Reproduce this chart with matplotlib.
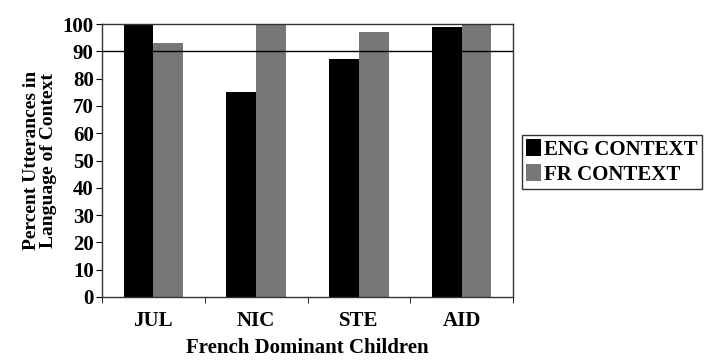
import matplotlib.pyplot as plt
import numpy as np

# data
children = ['JUL', 'NIC', 'STE', 'AID']
eng_context = [100, 75, 87, 99]
fr_context = [93, 100, 97, 100]
labels = ['ENG CONTEXT', 'FR CONTEXT']
colors = ['#000000', '#777777']
threshold = 90

plt.rcParams['font.family'] = 'Liberation Serif'
plt.rcParams['font.weight'] = 'bold'

fig = plt.figure(figsize=(7.05, 3.6), dpi=100)
ax = fig.add_axes([102 / 705, 1 - 297 / 360, 411 / 705, 273 / 360])

x = np.arange(len(children))
w = 0.29
ax.bar(x - w / 2, eng_context, w, color=colors[0], label=labels[0])
ax.bar(x + w / 2, fr_context, w, color=colors[1], label=labels[1])

ax.axhline(threshold, color='black', linewidth=1.0, zorder=3)

ax.set_xlim(-0.5, len(children) - 0.5)
ax.set_ylim(0, 100)
ax.set_yticks(np.arange(0, 101, 10))
ax.set_xticks(x)
ax.set_xticklabels(children)
ax.set_xticks(np.arange(-0.5, len(children), 1), minor=True)
ax.tick_params(axis='x', which='major', length=0, labelsize=15, pad=10)
ax.tick_params(axis='x', which='minor', length=4, direction='out')
ax.tick_params(axis='y', labelsize=15, length=4, direction='out', pad=2)
for t in ax.get_xticklabels() + ax.get_yticklabels():
    t.set_fontweight('bold')

for s in ax.spines.values():
    s.set_linewidth(1.0)
    s.set_color('#333333')

ax.set_ylabel('Percent Utterances in\nLanguage of Context', fontsize=14,
              fontweight='bold', linespacing=1.0, labelpad=4)
ax.set_xlabel('French Dominant Children', fontsize=15, fontweight='bold', labelpad=5)

leg = ax.legend(loc='upper left', bbox_to_anchor=(522 / 705, 1 - 135 / 360),
                bbox_transform=fig.transFigure, fontsize=15, frameon=True,
                fancybox=False, edgecolor='black', handlelength=0.7,
                handleheight=0.9, handletextpad=0.15, borderpad=0.2,
                labelspacing=0.2, borderaxespad=0)
leg.get_frame().set_linewidth(1.0)
for t in leg.get_texts():
    t.set_fontweight('bold')

fig.savefig('out.png', dpi=100)
